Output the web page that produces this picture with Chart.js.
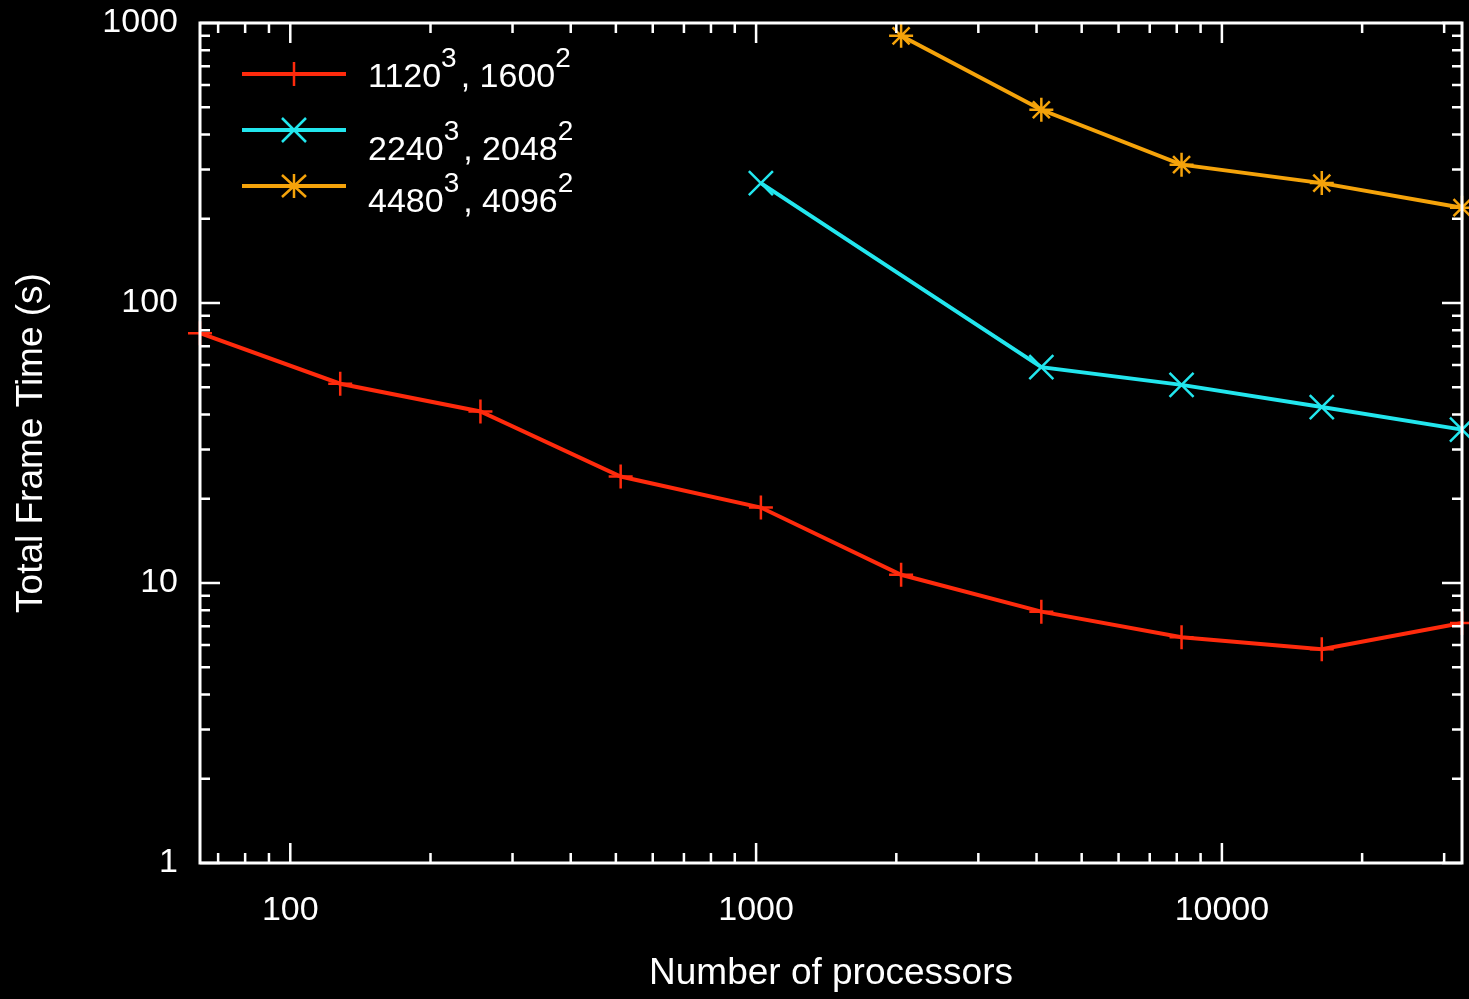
<!DOCTYPE html>
<html>
<head>
<meta charset="utf-8">
<script src="https://cdn.jsdelivr.net/npm/chart.js@4/dist/chart.umd.min.js"></script>
<style>
  html, body { margin: 0; padding: 0; background: #000; }
  #wrap { width: 1469px; height: 999px; }
</style>
</head>
<body>
<div id="wrap"><canvas id="myChart"></canvas></div>
<script>
  // processor counts
  var procs = [64, 128, 256, 512, 1024, 2048, 4096, 8192, 16384, 32768];
  // total frame time (s)
  var small = [78, 51.5, 41, 24, 18.6, 10.7, 7.9, 6.4, 5.8, 7.2];
  var medium = [null, null, null, null, 268, null, 59, 51, 42.5, 35.3];
  var large = [null, null, null, null, null, 900, 490, 312, 268, 219];
  // legend labels: [grid, exponent, image, exponent]
  var seriesLabels = [["1120", "3", ", 1600", "2"], ["2240", "3", ", 2048", "2"], ["4480", "3", ", 4096", "2"]];
  var xTickLabels = [100, 1000, 10000];
  var yTickLabels = [1, 10, 100, 1000];

  var fontFam = "'Liberation Sans', Arial, sans-serif";

  var toPoints = function(vals) {
    var pts = [];
    for (var i = 0; i < procs.length; i++) {
      if (vals[i] !== null) pts.push({x: procs[i], y: vals[i]});
    }
    return pts;
  };

  // every 1..9 x 10^n between min and max
  var logTicks = function(scale) {
    var ticks = [];
    for (var p = -1; p < 6; p++) {
      for (var m = 1; m < 10; m++) {
        var v = m * Math.pow(10, p);
        if (v >= scale.min - 1e-9 && v <= scale.max + 1e-9) ticks.push({value: v});
      }
    }
    scale.ticks = ticks;
  };

  var isPow10 = function(v) {
    var l = Math.log10(v);
    return Math.abs(l - Math.round(l)) < 1e-9;
  };

  // gnuplot style frame: inward ticks on all four sides
  var framePlugin = {
    id: 'frame',
    afterDatasetsDraw: function(chart) {
      var c = chart.ctx, a = chart.chartArea;
      var xs = chart.scales.x, ys = chart.scales.y;
      c.save();
      c.strokeStyle = '#ffffff';
      c.lineWidth = 2.5;
      c.beginPath();
      xs.ticks.forEach(function(t) {
        var px = xs.getPixelForValue(t.value);
        var len = isPow10(t.value) ? 20 : 10;
        c.moveTo(px, a.bottom); c.lineTo(px, a.bottom - len);
        c.moveTo(px, a.top); c.lineTo(px, a.top + len);
      });
      ys.ticks.forEach(function(t) {
        var py = ys.getPixelForValue(t.value);
        var len = isPow10(t.value) ? 20 : 10;
        c.moveTo(a.left, py); c.lineTo(a.left + len, py);
        c.moveTo(a.right, py); c.lineTo(a.right - len, py);
      });
      c.stroke();
      c.lineWidth = 3;
      c.strokeRect(a.left, a.top, a.right - a.left, a.bottom - a.top);
      c.restore();
    },
    afterDraw: function(chart) {
      // legend inside the plot, top left
      var c = chart.ctx;
      var rows = [
        {line: 74, base: 87},
        {line: 130, base: 160},
        {line: 186, base: 212}
      ];
      c.save();
      chart.data.datasets.forEach(function(ds, i) {
        var r = rows[i];
        c.strokeStyle = ds.borderColor;
        c.lineWidth = 4;
        c.beginPath();
        c.moveTo(242, r.line); c.lineTo(346, r.line);
        c.stroke();
        c.lineWidth = 2.5;
        c.beginPath();
        if (ds.pointStyle === 'cross') {
          c.moveTo(294, r.line - 12); c.lineTo(294, r.line + 12);
        } else if (ds.pointStyle === 'crossRot') {
          c.moveTo(282, r.line - 12); c.lineTo(306, r.line + 12);
          c.moveTo(306, r.line - 12); c.lineTo(282, r.line + 12);
        } else {
          c.moveTo(294, r.line - 12); c.lineTo(294, r.line + 12);
          c.moveTo(282, r.line - 11); c.lineTo(306, r.line + 11);
          c.moveTo(306, r.line - 11); c.lineTo(282, r.line + 11);
        }
        c.stroke();
        // label with raised exponents
        var parts = seriesLabels[i];
        var x = 368;
        c.fillStyle = '#ffffff';
        c.textBaseline = 'alphabetic';
        c.textAlign = 'left';
        for (var k = 0; k < parts.length; k++) {
          var sup = (k % 2 === 1);
          c.font = (sup ? '28px ' : '34px ') + fontFam;
          c.fillText(parts[k], x, sup ? r.base - 20 : r.base);
          x += c.measureText(parts[k]).width + (sup ? 4 : 0);
        }
      });
      c.restore();
    }
  };

  var makeSet = function(label, vals, color, style, radius) {
    return {
      label: label,
      data: toPoints(vals),
      borderColor: color,
      backgroundColor: color,
      borderWidth: 4,
      pointStyle: style,
      pointRadius: radius,
      pointBorderWidth: 2.5,
      pointHoverRadius: radius,
      tension: 0,
      clip: false
    };
  };

  var data = {
    datasets: [
      makeSet(seriesLabels[0].join(''), small, '#ff2a0c', 'cross', 12),
      makeSet(seriesLabels[1].join(''), medium, '#22e6ee', 'crossRot', 17),
      makeSet(seriesLabels[2].join(''), large, '#f5a30a', 'star', 12)
    ]
  };

  var option = {
    responsive: true,
    maintainAspectRatio: false,
    animation: false,
    layout: { autoPadding: false, padding: { top: 23, right: 7, left: 0, bottom: 0 } },
    plugins: { legend: { display: false }, tooltip: { enabled: false } },
    scales: {
      x: {
        type: 'logarithmic',
        min: 64,
        max: 32768,
        afterBuildTicks: logTicks,
        afterFit: function(s) { s.height = 136; s.paddingLeft = 0; s.paddingRight = 0; },
        grid: { display: false, drawTicks: false },
        border: { display: false },
        ticks: {
          autoSkip: false,
          maxRotation: 0,
          padding: 27,
          color: '#ffffff',
          font: { family: fontFam, size: 34 },
          callback: function(v) { return xTickLabels.indexOf(v) >= 0 ? String(v) : ''; }
        },
        title: {
          display: true,
          text: 'Number of processors',
          color: '#ffffff',
          font: { family: fontFam, size: 37 },
          padding: { top: 10, bottom: 3 }
        }
      },
      y: {
        type: 'logarithmic',
        min: 1,
        max: 1000,
        afterBuildTicks: logTicks,
        afterFit: function(s) { s.width = 200; s.paddingTop = 0; s.paddingBottom = 0; },
        grid: { display: false, drawTicks: false },
        border: { display: false },
        ticks: {
          autoSkip: false,
          padding: 22,
          color: '#ffffff',
          font: { family: fontFam, size: 34 },
          callback: function(v) { return yTickLabels.indexOf(v) >= 0 ? String(v) : ''; }
        },
        title: {
          display: true,
          text: 'Total Frame Time (s)',
          color: '#ffffff',
          font: { family: fontFam, size: 37 },
          padding: { top: 10, bottom: 0 }
        }
      }
    }
  };

  var ctx = document.getElementById('myChart').getContext('2d');
  var myLineChart = new Chart(ctx, { type: 'line', data: data, options: option, plugins: [framePlugin] });
</script>
</body>
</html>
